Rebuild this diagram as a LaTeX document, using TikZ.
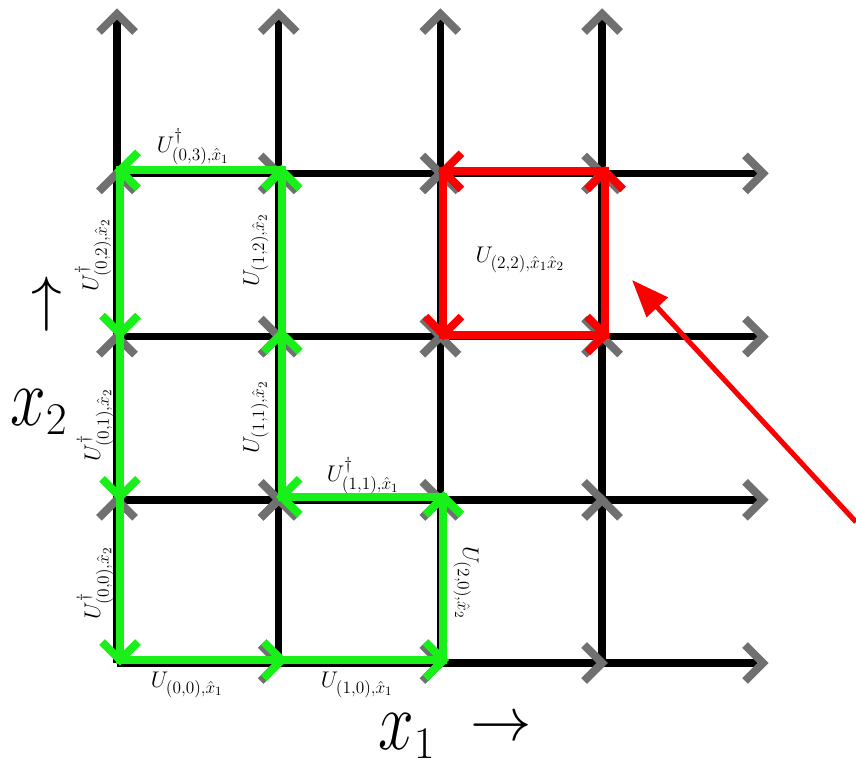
\RequirePackage{fix-cm}
\documentclass[tikz,border=0pt]{standalone}
\usepackage{amsmath}
\usepackage{graphicx}
\usetikzlibrary{arrows.meta}
\DeclareMathSizes{17}{17}{13}{9.5}
\DeclareMathSizes{48}{48}{34}{24}
\definecolor{chevgray}{RGB}{112,112,112}
\definecolor{lgreen}{RGB}{25,240,25}
\definecolor{lred}{RGB}{250,0,0}
\tikzset{
  gridline/.style={line width=5.6pt, black, line cap=butt},
  chev/.style={line width=6pt, line cap=butt, line join=miter},
  loopline/.style={line width=6pt, line join=miter, line cap=butt},
  lbl/.style={inner sep=0pt, font=\fontsize{17}{19}\selectfont},
  biglbl/.style={inner sep=0pt, font=\fontsize{48}{48}\selectfont},
  pics/chevR/.style={code={\draw[chev] (-18,-18) -- (0,0) -- (-18,18);}},
  pics/chevL/.style={code={\draw[chev] (18,-18) -- (0,0) -- (18,18);}},
  pics/chevU/.style={code={\draw[chev] (-18,18) -- (0,0) -- (18,18);}},
  pics/chevD/.style={code={\draw[chev] (-18,-18) -- (0,0) -- (18,-18);}},
}
\begin{document}
\begin{tikzpicture}[x=0.75pt,y=-0.75pt]
\useasboundingbox (0,0) rectangle (856,767);
% grid points
\foreach \i in {0,...,3}{
  \foreach \j in {0,...,3}{
    \coordinate (p\i\j) at ({117+161.7*\i},{663-163.2*\j});
    \coordinate (g\i\j) at ({120+161.7*\i},{660-163.2*\j});
    \coordinate (q\i\j) at ({120+161.7*\i},{661-163.2*\j});
  }
  \coordinate (t\i) at ({117+161.7*\i},14);
  \coordinate (r\i) at (763,{663-163.2*\i});
}
% black lattice
\foreach \k in {0,...,3}{
  \draw[gridline, shorten >=4pt] (p\k0) -- (t\k);
  \draw[gridline, shorten >=4pt] (p0\k) -- (r\k);
}
% gray chevrons
\foreach \k in {0,...,3}{
  \pic[color=chevgray] at (t\k) {chevU};
  \pic[color=chevgray] at (r\k) {chevR};
}
\foreach \i in {0,...,3}{
  \foreach \j in {0,...,3}{
    \ifnum\i>0 \pic[color=chevgray] at (p\i\j) {chevR};\fi
    \ifnum\j>0 \pic[color=chevgray] at (p\i\j) {chevU};\fi
  }
}
% green loop
\draw[loopline, lgreen] (g00) -- (g10) -- (g20) -- (g21) -- (g11) -- (g12) -- (g13) -- (g03) -- (g02) -- (g01) -- cycle;
\pic[color=lgreen] at (g10) {chevR};
\pic[color=lgreen] at (g20) {chevR};
\pic[color=lgreen] at (g21) {chevU};
\pic[color=lgreen] at (g11) {chevL};
\pic[color=lgreen] at (g12) {chevU};
\pic[color=lgreen] at (g13) {chevU};
\pic[color=lgreen] at (g03) {chevL};
\pic[color=lgreen] at (g02) {chevD};
\pic[color=lgreen] at (g01) {chevD};
\pic[color=lgreen] at (g00) {chevD};
% red plaquette
\draw[loopline, lred] (q22) -- (q32) -- (q33) -- (q23) -- cycle;
\pic[color=lred] at (q32) {chevR};
\pic[color=lred] at (q33) {chevU};
\pic[color=lred] at (q23) {chevL};
\pic[color=lred] at (q22) {chevD};
% labels
\node[lbl] (l03) at (193,147) {$U^{\dagger}_{(0,3),\hat{x}_1}$};
\node[lbl] (l00h) at (187,685) {$U_{(0,0),\hat{x}_1}$};
\node[lbl] (l10h) at (357,685) {$U_{(1,0),\hat{x}_1}$};
\node[lbl] (l11h) at (363,476) {$U^{\dagger}_{(1,1),\hat{x}_1}$};
\node[lbl, rotate=-90] (l20v) at (466,583) {$U_{(2,0),\hat{x}_2}$};
\node[lbl, rotate=90] (l11v) at (256,417) {$U_{(1,1),\hat{x}_2}$};
\node[lbl, rotate=90] (l12v) at (256,250) {$U_{(1,2),\hat{x}_2}$};
\node[lbl, rotate=90] (l02v) at (93,255) {$U^{\dagger}_{(0,2),\hat{x}_2}$};
\node[lbl, rotate=90] (l01v) at (95,425) {$U^{\dagger}_{(0,1),\hat{x}_2}$};
\node[lbl, rotate=90] (l00v) at (95,583) {$U^{\dagger}_{(0,0),\hat{x}_2}$};
\node[lbl] (lplaq) at (520,260) {$U_{(2,2),\hat{x}_1\hat{x}_2}$};
% axis labels
\node[biglbl, anchor=base west] (xone) at (378,749) {\scalebox{1}[1.3]{$x$}$_1$};
\node[inner sep=0pt, font=\fontsize{46}{46}\selectfont] (xonearr) at (501,729) {$\rightarrow$};
\node[inner sep=0pt, font=\fontsize{46}{46}\selectfont] (xtwoarr) at (47,304) {$\uparrow$};
\node[biglbl, anchor=base west] (xtwo) at (10,425) {\scalebox{1}[1.3]{$x$}$_2$};
% pointer arrow
\coordinate (ptrA) at (856,522);
\coordinate (ptrB) at (632,280);
\draw[lred, line width=3.8pt, -{Triangle[length=28pt,width=21pt]}] (ptrA) -- (ptrB);
\end{tikzpicture}
\end{document}
